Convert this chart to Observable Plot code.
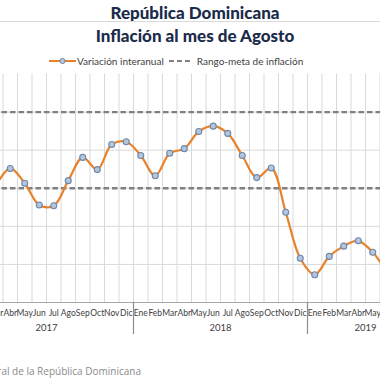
<!DOCTYPE html>
<html>
<head>
<meta charset="utf-8">
<script src="https://cdn.jsdelivr.net/npm/d3@7"></script>
<script src="https://cdn.jsdelivr.net/npm/@observablehq/plot@0.6"></script>
<style>
  html, body { margin:0; padding:0; background:#fff; }
  #wrap { position:relative; width:380px; height:380px; overflow:hidden; font-family: Lato, "DejaVu Sans", sans-serif; }
  .t1 { position:absolute; left:0; width:390px; top:2px; text-align:center; font-weight:900; font-size:17px; color:#1b2b4a; line-height:22px; }
  .hr { position:absolute; left:0; width:380px; top:21px; height:1px; background:#d9d9d9; }
  .t2 { position:absolute; left:0; width:390px; top:25px; text-align:center; font-weight:900; font-size:17px; color:#1b2b4a; line-height:22px; }
  .legend { position:absolute; left:49px; top:54px; height:14px; display:flex; align-items:center; font-size:10px; color:#404040; white-space:nowrap; }
  .legend svg { display:block; }
  #chart { position:absolute; left:-41px; top:68px; width:464px; }
  #chart svg { max-width:none; display:block; }
  .src { position:absolute; right:239px; top:364px; font-family:"Open Sans", sans-serif; font-size:10px; color:#8a8a8a; white-space:nowrap; }
</style>
</head>
<body>
<div id="wrap">
  <div class="t1">República Dominicana</div>
  <div class="hr"></div>
  <div class="t2">Inflación al mes de Agosto</div>
  <div class="legend">
    <svg width="27" height="10"><line x1="0" y1="5" x2="27" y2="5" stroke="#e8822a" stroke-width="2"/><circle cx="13.5" cy="5" r="2.6" fill="#b4c6dc" stroke="#6e87ab" stroke-width="1"/></svg>
    <span style="margin-left:1px">Variación interanual</span>
    <svg width="24" height="10" style="margin-left:5px"><line x1="0" y1="5" x2="24" y2="5" stroke="#7f7f7f" stroke-width="2" stroke-dasharray="5,3"/></svg>
    <span style="margin-left:4px">Rango-meta de inflación</span>
  </div>
  <div id="chart"></div>
  <div class="src">Fuente: Banco Central de la República Dominicana</div>
</div>
<script>
const months = ["Ene","Feb","Mar","Abr","May","Jun","Jul","Ago","Sep","Oct","Nov","Dic"];
const years = [2017, 2018, 2019];
const values2017 = [2.5, 2.7, 3.1, 3.52, 3.13, 2.56, 2.54, 3.20, 3.81, 3.49, 4.15, 4.22];
const values2018 = [3.86, 3.33, 3.92, 4.04, 4.49, 4.63, 4.44, 3.86, 3.28, 3.53, 2.37, 1.16];
const values2019 = [0.73, 1.21, 1.48, 1.62, 1.32, 0.9, 1.1, 1.4];
const targetRange = [3, 5];
const gridValues = [1, 2, 3, 4, 5];

const series = [values2017, values2018, values2019];
const data = [];
series.forEach((vals, yi) => vals.forEach((v, m) => data.push({i: data.length, v, label: months[m], year: years[yi]})));
const n = data.length;
const yearGroups = years.map((y, yi) => {
  const idx = data.filter(d => d.year === y).map(d => d.i);
  return {year: String(y), start: idx[0] - 0.5, end: idx[idx.length - 1] + 0.5, center: (idx[0] + idx[idx.length - 1]) / 2};
});
const yearBounds = [yearGroups[0].start, ...yearGroups.map(g => g.end)];
const monthBounds = d3.range(-0.5, n, 1);

const W = 464, MT = 5.5, PH = 228.5, MB = 40;
const chart = Plot.plot({
  width: W, height: MT + PH + MB,
  marginLeft: 0, marginRight: 0, marginTop: MT, marginBottom: MB,
  style: {fontFamily: "Lato, sans-serif", background: "transparent", maxWidth: "none"},
  x: {domain: [-0.5, n - 0.5], axis: null},
  y: {domain: [0, 6], axis: null},
  marks: [
    Plot.ruleY(gridValues, {stroke: "#d9d9d9", strokeWidth: 1}),
    Plot.ruleX(monthBounds, {stroke: "#d9d9d9", strokeWidth: 1}),
    Plot.ruleY(targetRange, {stroke: "#808080", strokeWidth: 2.4, strokeDasharray: "5.5,3"}),
    Plot.ruleY([0], {stroke: "#a6a6a6", strokeWidth: 1}),
    Plot.ruleX(yearBounds, {stroke: "#8c8c8c", strokeWidth: 1.2, insetTop: PH, insetBottom: -32}),
    Plot.axisX(d3.range(n), {tickFormat: i => data[i].label, tickSize: 0, tickPadding: 7.5, fontSize: 8.5, fill: "#404040", label: null}),
    Plot.text(yearGroups, {x: "center", text: "year", frameAnchor: "bottom", dy: 28, fontSize: 9.5, fill: "#404040"}),
    Plot.line(data, {x: "i", y: "v", curve: "catmull-rom", stroke: "#e8822a", strokeWidth: 2.2}),
    Plot.dot(data, {x: "i", y: "v", r: 3, fill: "#b4c6dc", stroke: "#6e87ab", strokeWidth: 1.1})
  ]
});
document.getElementById("chart").appendChild(chart);
</script>
</body>
</html>
